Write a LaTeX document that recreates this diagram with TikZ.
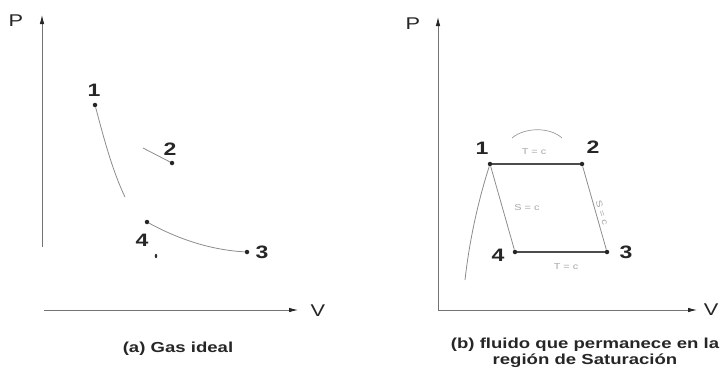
\documentclass[tikz,border=0pt]{standalone}
\usepackage{fontspec}
\setmainfont{Liberation Sans}
\newfontfamily\widefont[FakeStretch=1.28]{Liberation Sans}
\usetikzlibrary{arrows.meta}

\tikzset{
  axisline/.style={black!55, line width=0.8pt},
  axistip/.style={-{Latex[length=9pt,width=4.5pt,color=black!85]}},
  axlabel/.style={font=\widefont\fontsize{17}{17}\selectfont, text=black!85, inner sep=0pt},
  dot/.style={circle, fill=black!85, minimum size=4.5pt, inner sep=0pt},
  num/.style={font=\widefont\bfseries\fontsize{18}{18}\selectfont, text=black!85, inner sep=0pt},
  cycle/.style={black!70, line width=1.1pt},
  faded/.style={black!45, line width=0.8pt},
  note/.style={font=\widefont\fontsize{8.5}{8.5}\selectfont, text=black!35, inner sep=0pt},
  caption/.style={font=\widefont\bfseries\fontsize{14.5}{16}\selectfont, text=black!85, inner sep=0pt}
}

\begin{document}
\begin{tikzpicture}[x=1pt,y=-1pt]
  \useasboundingbox (0,0) rectangle (722,367);

  % (a) Gas ideal
  \coordinate (aYb) at (42,247);
  \coordinate (aYt) at (42,15);
  \coordinate (aXl) at (44,310);
  \coordinate (aXr) at (298,310);
  \draw[axisline, axistip] (aYb) -- (aYt);
  \draw[axisline, axistip] (aXl) -- (aXr);
  \node[axlabel] (aP) at (16,21) {P};
  \node[axlabel] (aV) at (318,311) {V};

  \node[dot] (a1) at (95,105) {};
  \node[dot] (a2) at (172,163) {};
  \node[dot] (a3) at (247,252) {};
  \node[dot] (a4) at (147,222) {};
  \node[num] (a1l) at (94,90) {1};
  \node[num] (a2l) at (170,149) {2};
  \node[num] (a3l) at (262,252) {3};
  \node[num] (a4l) at (142,240) {4};

  \coordinate (a1e) at (125,197);
  \coordinate (a2s) at (143,148);
  \draw[faded] (a1) .. controls (103,135) and (112,170) .. (a1e);
  \draw[faded] (a2s) -- (a2);
  \draw[faded] (a4) .. controls (180,240) and (212,250) .. (a3);
  \fill[black!80] (156,256) ellipse (1.3pt and 2.2pt);

  % (b) fluido en la region de saturacion
  \coordinate (bO) at (438,310);
  \coordinate (bYt) at (438,17);
  \coordinate (bXr) at (697,310);
  \draw[axisline, axistip] (bO) -- (bYt);
  \draw[axisline, axistip] (bO) -- (bXr);
  \node[axlabel] (bP) at (413,24) {P};
  \node[axlabel] (bV) at (711,310) {V};

  \node[dot] (b1) at (490,164) {};
  \node[dot] (b2) at (582,164) {};
  \node[dot] (b3) at (607,252) {};
  \node[dot] (b4) at (515,252) {};
  \node[num] (b1l) at (482,148) {1};
  \node[num] (b2l) at (593,147) {2};
  \node[num] (b3l) at (626,252) {3};
  \node[num] (b4l) at (498,255) {4};

  \draw[cycle] (b1) -- (b2);
  \draw[cycle] (b4) -- (b3);
  \draw[faded] (b2) -- (b3);
  \draw[faded] (b1) -- (b4);
  \coordinate (bDome) at (465,280);
  \draw[faded] (b1) .. controls (480,195) and (470,235) .. (bDome);
  \coordinate (bArcL) at (512,138);
  \coordinate (bArcR) at (562,138);
  \draw[black!40, line width=0.7pt] (bArcL) .. controls (525,127) and (550,127) .. (bArcR);

  \node[note] (bT12) at (534,152) {T = c};
  \node[note] (bS14) at (527,208) {S = c};
  \node[note] (bT43) at (566,267) {T = c};
  \node[note, rotate=-73] (bS23) at (602,213) {S = c};

  % captions
  \node[caption, anchor=base] (capa) at (178,352) {(a) Gas ideal};
  \node[caption, align=center, anchor=north] (capb) at (585,338)
    {(b) fluido que permanece en la\\región de Saturación};
\end{tikzpicture}
\end{document}
